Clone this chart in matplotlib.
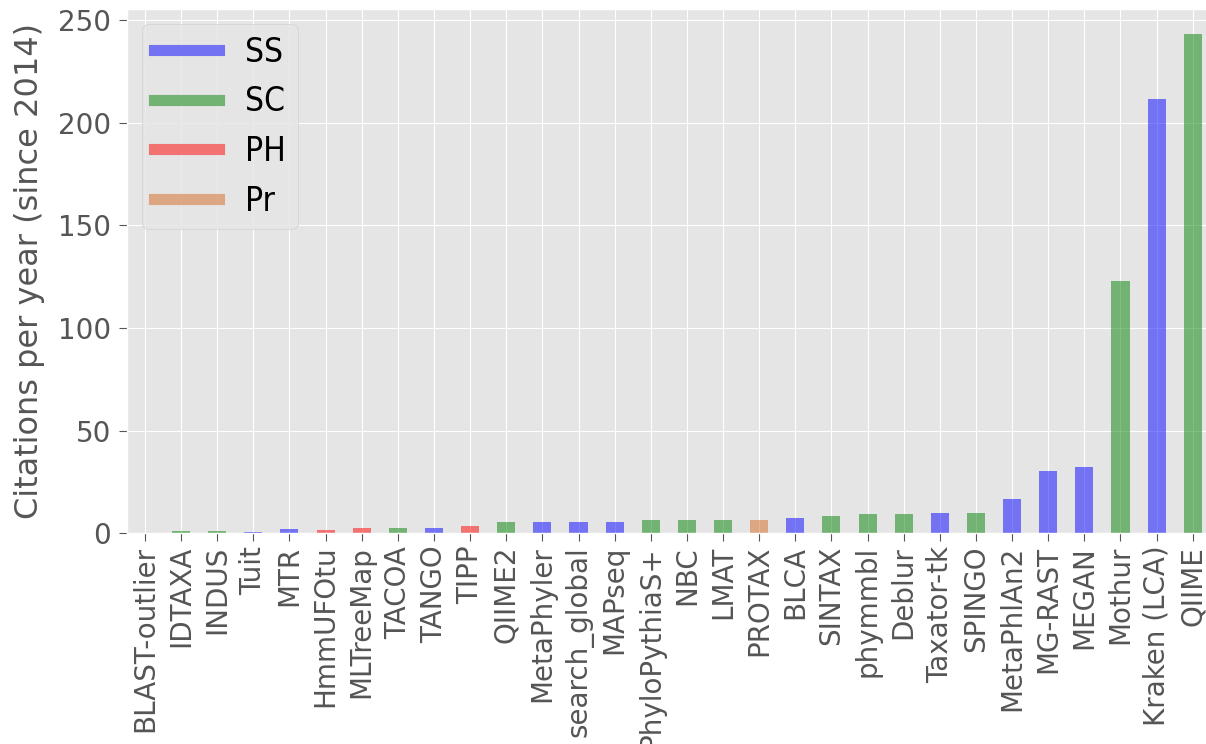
import matplotlib
matplotlib.use("Agg")
import matplotlib.pyplot as plt
from matplotlib.lines import Line2D
from matplotlib import font_manager

plt.style.use("ggplot")
plt.rcParams["font.size"] = 20
plt.rcParams["axes.labelsize"] = 23

# Tools ordered by citation rate
tools = ["BLAST-outlier", "IDTAXA", "INDUS", "Tuit", "MTR", "HmmUFOtu",
         "MLTreeMap", "TACOA", "TANGO", "TIPP", "QIIME2", "MetaPhyler",
         "search_global", "MAPseq", "PhyloPythiaS+", "NBC", "LMAT", "PROTAX",
         "BLCA", "SINTAX", "phymmbl", "Deblur", "Taxator-tk", "SPINGO",
         "MetaPhlAn2", "MG-RAST", "MEGAN", "Mothur", "Kraken (LCA)", "QIIME"]
citations = [0.0, 1.0, 1.0, 0.8, 2.0, 1.7,
             2.7, 2.7, 2.7, 3.7, 5.5, 5.5,
             5.5, 5.5, 6.3, 6.3, 6.3, 6.3,
             7.3, 8.3, 9.2, 9.2, 10.0, 10.0,
             16.5, 30.3, 32.1, 123.1, 211.6, 243.2]
method = ["SS", "SC", "SC", "SS", "SS", "PH",
          "PH", "SC", "SS", "PH", "SC", "SS",
          "SS", "SS", "SC", "SC", "SC", "Pr",
          "SS", "SC", "SC", "SC", "SS", "SC",
          "SS", "SS", "SS", "SC", "SS", "SC"]

method_names = ["SS", "SC", "PH", "Pr"]
method_colors = {"SS": "blue", "SC": "green", "PH": "red", "Pr": "chocolate"}

fig = plt.figure(figsize=(12.06, 7.44), dpi=100)
ax = fig.add_axes([0.1052, 0.2832, 0.8988, 0.7047])

x = range(len(tools))
ax.bar(x, citations, width=0.5, color=[method_colors[m] for m in method],
       alpha=0.5)
ax.set_xlim(-0.5, len(tools) - 0.5)
ax.set_xticks(list(x))
ax.set_xticklabels(tools, rotation=90)
ax.set_ylabel("Citations per year (since 2014)", labelpad=9)
ax.tick_params(axis="both", length=5.5)
ax.tick_params(axis="y", pad=6)


def narrow_font(size):
    """Pick a narrow sans face for the legend if one is installed."""
    files = [f for f in font_manager.fontManager.ttflist]
    for key in ("LiberationSansNarrow-Regular", "Arial Narrow",
                "DejaVuSansCondensed.ttf", "Condensed-Regular", "Condensed"):
        for f in files:
            name = f.fname.lower()
            if key.lower() in name and "bold" not in name \
                    and "oblique" not in name and "italic" not in name:
                return font_manager.FontProperties(fname=f.fname, size=size)
    return font_manager.FontProperties(family="Liberation Sans", size=size - 2)


handles = [Line2D([0], [0], color=method_colors[m], lw=8, alpha=0.5)
           for m in method_names]
leg = ax.legend(handles, method_names, loc="upper left", handlelength=1.95,
                prop=narrow_font(24), labelspacing=0.5, borderpad=0.35,
                borderaxespad=0.45)
for t in leg.get_texts():
    t.set_color("black")

fig.savefig("out.png", dpi=100)
